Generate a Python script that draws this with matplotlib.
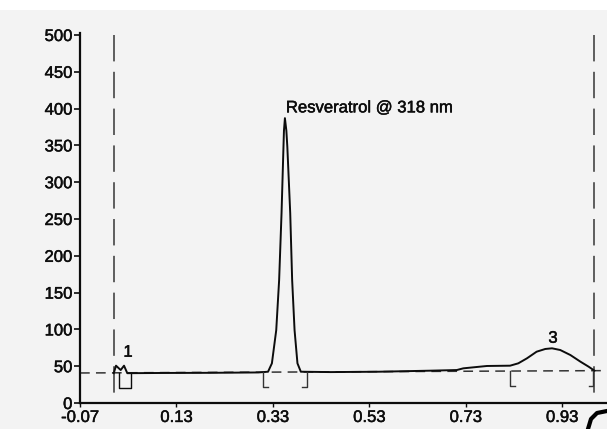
import matplotlib
matplotlib.use("Agg")
import matplotlib.pyplot as plt
import matplotlib.patheffects as pe
from matplotlib.lines import Line2D
from matplotlib.patches import Rectangle

plt.rcParams['font.family'] = ['Liberation Sans', 'DejaVu Sans']
plt.rcParams['lines.scale_dashes'] = False

# ---- data ----
trace_x = [0.000, 0.0047, 0.0144, 0.0213, 0.0281, 0.10, 0.20, 0.30,
           0.320, 0.328, 0.337, 0.343, 0.348, 0.352, 0.3530, 0.355, 0.358,
           0.360, 0.366, 0.370, 0.375, 0.381, 0.388,
           0.45, 0.55, 0.656, 0.7115, 0.725, 0.774, 0.822, 0.839, 0.857,
           0.877, 0.895, 0.909, 0.926, 0.947, 0.968, 0.985, 0.997]
trace_y = [40.5, 50.7, 44.8, 50.7, 40.5, 40.8, 41.0, 41.5,
           42.5, 53.9, 99, 167, 258, 348, 370, 387, 370,
           348, 258, 167, 99, 53.9, 42.5,
           42.0, 42.5, 43.9, 44.8, 47.1, 50.3, 50.7, 53.9, 60.7,
           69.7, 73.4, 74.3, 72.0, 65.2, 56.1, 49.3, 43.9]

baseline_x = [-0.07, 1.023]
baseline_y = [40.8, 44.0]

window_x = [0.0, 0.996]            # vertical dashed integration window

# peak-boundary brackets: x, direction of foot (+1 right, -1 left)
bracket_x = [0.309, 0.400, 0.822, 0.995]
bracket_dir = [1, -1, 1, -1]
bracket_top = [42.0, 42.0, 43.5, 43.5]
bracket_bottom = [22.0, 22.0, 23.0, 23.0]

box_x = [0.0116, 0.035]            # small box under peak 1
box_y = [20.0, 40.5]

labels = ["1", "Resveratrol @ 318 nm", "3"]
label_x = [0.0296, 0.357, 0.911]
label_y = [69, 401, 88]
label_ha = ["center", "left", "center"]

xticks = [-0.07, 0.13, 0.33, 0.53, 0.73, 0.93]
xtick_labels = ["-0.07", "0.13", "0.33", "0.53", "0.73", "0.93"]
yticks = list(range(0, 501, 50))

# ---- figure ----
W, H = 607, 429
fig = plt.figure(figsize=(W / 100, H / 100), dpi=100, facecolor='#f3f3f3')
fig.patches.append(Rectangle((0, 1 - 10 / H), 1, 10 / H, transform=fig.transFigure,
                             facecolor='white', edgecolor='none', zorder=0))

ax = fig.add_axes([80 / W, 1 - 403 / H, 527 / W, 370 / H])
ax.set_facecolor('none')
ax.set_xlim(-0.07, 1.023)
ax.set_ylim(0, 502.7)

ink = '#0c0c0c'
thick = [pe.withStroke(linewidth=0.35, foreground=ink)]

ax.plot(trace_x, trace_y, color=ink, lw=1.4, zorder=3, solid_joinstyle='round')
ax.plot(baseline_x, baseline_y, color='#333333', lw=1.1,
        linestyle=(0, (7.0, 4.5)), zorder=2)
for wx in window_x:
    ax.plot([wx, wx], [500.5, 0], color='#444444', lw=1.2,
            linestyle=(0, (19.0, 7.5)), zorder=2, clip_on=False)

foot = 0.010
for bx, d, bt, bb in zip(bracket_x, bracket_dir, bracket_top, bracket_bottom):
    ax.plot([bx, bx, bx + d * foot], [bt, bb, bb], color='#333333', lw=1.0, zorder=3)

ax.plot([box_x[0], box_x[0], box_x[1], box_x[1]],
        [box_y[1], box_y[0], box_y[0], box_y[1]], color=ink, lw=1.0, zorder=3)

for t, lx, ly, ha in zip(labels, label_x, label_y, label_ha):
    ax.text(lx, ly, t, ha=ha, va='center', fontsize=12, color=ink, path_effects=thick)

ax.set_xticks(xticks)
ax.set_xticklabels(xtick_labels)
ax.set_yticks(yticks)
ax.tick_params(axis='both', labelsize=12, colors=ink, direction='out')
ax.tick_params(axis='y', length=4, width=1.2, pad=1.5)
ax.tick_params(axis='x', length=3, width=1.0, pad=2)
for lab in ax.get_xticklabels() + ax.get_yticklabels():
    lab.set_path_effects(thick)
for s in ['top', 'right']:
    ax.spines[s].set_visible(False)
for s in ['left', 'bottom']:
    ax.spines[s].set_linewidth(1.6)
    ax.spines[s].set_color(ink)

# scan artefact at bottom-right corner
fig.add_artist(Line2D([588 / W, 591 / W, 597 / W, 607 / W],
                      [1 - 429 / H, 1 - 419 / H, 1 - 413 / H, 1 - 411 / H],
                      transform=fig.transFigure, color='black', lw=3))

fig.savefig('out.png', dpi=100, facecolor=fig.get_facecolor())
